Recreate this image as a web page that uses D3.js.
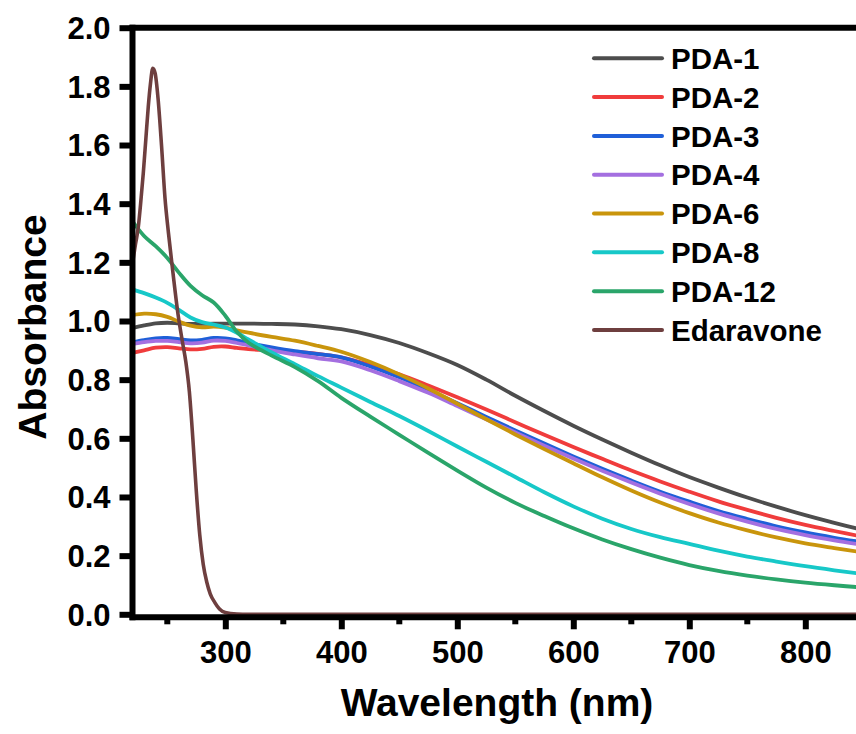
<!DOCTYPE html>
<html>
<head>
<meta charset="utf-8">
<script src="https://cdn.jsdelivr.net/npm/d3@7"></script>
<style>
  html, body { margin: 0; padding: 0; background: #fff; }
  svg { display: block; }
  text { font-family: "Liberation Sans", Arial, Helvetica, sans-serif; font-weight: bold; fill: #000; }
</style>
</head>
<body>
<svg id="chart" width="856" height="734"></svg>
<script>
// ---------- DATA ----------
const wavelengths = [220, 230, 240, 250, 260, 270, 280, 290, 300, 310, 320, 340, 360, 380, 400, 425, 450, 475, 500, 525, 550, 575, 600, 625, 650, 675, 700, 725, 750, 775, 800, 825, 850];

const pda1  = [0.976, 0.985, 0.992, 0.994, 0.992, 0.990, 0.990, 0.991, 0.991, 0.991, 0.991, 0.990, 0.988, 0.982, 0.972, 0.952, 0.925, 0.890, 0.850, 0.800, 0.745, 0.693, 0.643, 0.596, 0.551, 0.508, 0.468, 0.432, 0.398, 0.367, 0.338, 0.312, 0.287];
const pda2  = [0.891, 0.900, 0.909, 0.911, 0.907, 0.903, 0.905, 0.912, 0.913, 0.908, 0.904, 0.900, 0.895, 0.888, 0.876, 0.850, 0.818, 0.780, 0.740, 0.698, 0.655, 0.612, 0.570, 0.530, 0.490, 0.453, 0.418, 0.385, 0.356, 0.329, 0.305, 0.284, 0.264];
const pda3  = [0.928, 0.935, 0.941, 0.942, 0.938, 0.934, 0.936, 0.942, 0.941, 0.934, 0.925, 0.910, 0.897, 0.887, 0.876, 0.845, 0.808, 0.765, 0.720, 0.673, 0.627, 0.582, 0.538, 0.496, 0.456, 0.418, 0.384, 0.352, 0.325, 0.300, 0.279, 0.261, 0.245];
const pda4  = [0.922, 0.928, 0.932, 0.932, 0.928, 0.924, 0.926, 0.933, 0.932, 0.925, 0.917, 0.900, 0.886, 0.873, 0.862, 0.832, 0.795, 0.755, 0.710, 0.665, 0.620, 0.575, 0.531, 0.489, 0.449, 0.411, 0.376, 0.344, 0.316, 0.291, 0.270, 0.252, 0.236];
const pda6  = [1.020, 1.025, 1.023, 1.014, 0.998, 0.984, 0.978, 0.981, 0.977, 0.968, 0.960, 0.946, 0.933, 0.915, 0.895, 0.860, 0.818, 0.770, 0.718, 0.665, 0.613, 0.563, 0.515, 0.467, 0.422, 0.381, 0.345, 0.313, 0.286, 0.262, 0.242, 0.226, 0.211];
const pda8  = [1.108, 1.095, 1.080, 1.062, 1.038, 1.012, 0.996, 0.988, 0.978, 0.960, 0.937, 0.893, 0.853, 0.812, 0.773, 0.724, 0.676, 0.625, 0.572, 0.520, 0.468, 0.416, 0.368, 0.326, 0.291, 0.263, 0.240, 0.217, 0.197, 0.180, 0.164, 0.150, 0.137];
const pda12 = [1.340, 1.290, 1.255, 1.215, 1.165, 1.120, 1.088, 1.063, 1.018, 0.963, 0.926, 0.882, 0.843, 0.795, 0.738, 0.674, 0.612, 0.550, 0.490, 0.432, 0.380, 0.335, 0.293, 0.255, 0.222, 0.193, 0.168, 0.148, 0.132, 0.119, 0.108, 0.099, 0.091];

const edaWavelengths = [220, 222.5, 225, 227, 229.3, 231.5, 233.6, 235.5, 237.5, 239.5, 242, 245, 248, 251, 255, 259, 263, 266, 269, 272, 275, 278, 281, 284, 287, 291, 295, 300, 310, 320, 400, 500, 600, 700, 800, 850];
const edaravone      = [1.196, 1.26, 1.32, 1.40, 1.504, 1.62, 1.731, 1.81, 1.862, 1.845, 1.76, 1.60, 1.42, 1.30, 1.16, 1.03, 0.93, 0.86, 0.76, 0.60, 0.42, 0.27, 0.17, 0.11, 0.07, 0.04, 0.018, 0.006, 0.001, 0.0, 0.0, 0.0, 0.0, 0.0, 0.0, 0.0];

const seriesNames  = ["PDA-1", "PDA-2", "PDA-3", "PDA-4", "PDA-6", "PDA-8", "PDA-12", "Edaravone"];
const seriesColors = ["#4d4d4d", "#f03c3c", "#1f5fd8", "#a46fe0", "#c9950c", "#17c8c8", "#2aa56a", "#6e3f3f"];

const xTicks = [300, 400, 500, 600, 700, 800];
const xMinorTicks = [250, 350, 450, 550, 650, 750];
const yTicks = [0.0, 0.2, 0.4, 0.6, 0.8, 1.0, 1.2, 1.4, 1.6, 1.8, 2.0];

const xTitle = "Wavelength (nm)";
const yTitle = "Absorbance";

// ---------- CHART ----------
const svg = d3.select("#chart");
svg.append("rect").attr("width", 856).attr("height", 734).attr("fill", "#fff");

const x = d3.scaleLinear().domain([220, 850]).range([132.5, 863.3]);
const y = d3.scaleLinear().domain([0, 2]).range([614.3, 27.7]);

const series = [
  { name: seriesNames[0], color: seriesColors[0], xs: wavelengths, ys: pda1 },
  { name: seriesNames[1], color: seriesColors[1], xs: wavelengths, ys: pda2 },
  { name: seriesNames[2], color: seriesColors[2], xs: wavelengths, ys: pda3 },
  { name: seriesNames[3], color: seriesColors[3], xs: wavelengths, ys: pda4 },
  { name: seriesNames[4], color: seriesColors[4], xs: wavelengths, ys: pda6 },
  { name: seriesNames[5], color: seriesColors[5], xs: wavelengths, ys: pda8 },
  { name: seriesNames[6], color: seriesColors[6], xs: wavelengths, ys: pda12 },
  { name: seriesNames[7], color: seriesColors[7], xs: edaWavelengths, ys: edaravone }
];

svg.append("defs").append("clipPath").attr("id", "plotClip")
  .append("rect").attr("x", x(220)).attr("y", 0).attr("width", 900).attr("height", y(0) + 2);

const smoothLine = d3.line().x(d => x(d[0])).y(d => y(d[1])).curve(d3.curveCatmullRom.alpha(0.5));
const monoLine = d3.line().x(d => x(d[0])).y(d => y(d[1])).curve(d3.curveMonotoneX);

const plot = svg.append("g").attr("clip-path", "url(#plotClip)");
series.forEach(s => {
  const isEda = s.name === "Edaravone";
  plot.append("path")
    .datum(s.xs.map((w, i) => [w, s.ys[i]]))
    .attr("fill", "none")
    .attr("stroke", s.color)
    .attr("stroke-width", isEda ? 3.6 : 3.8)
    .attr("stroke-linejoin", "round")
    .attr("stroke-linecap", "round")
    .attr("d", isEda ? monoLine : smoothLine);
});

// Axes
const axW = 6;
const bottomY = y(0) + 3;
const xAxis = d3.axisBottom(x).tickValues(xTicks).tickSize(0).tickFormat(d3.format("d"));
const gx = svg.append("g").attr("transform", `translate(0,${bottomY})`).call(xAxis);
gx.select(".domain").remove();
gx.selectAll(".tick text").attr("font-size", 31).attr("dy", 0).attr("y", 46)
  .style("font-family", "'Liberation Sans', Arial, sans-serif").style("font-weight", "bold");
gx.selectAll(".tick").append("line")
  .attr("y1", 0).attr("y2", 12).attr("stroke", "#000").attr("stroke-width", axW);
const gxm = svg.append("g").attr("transform", `translate(0,${bottomY})`);
gxm.selectAll("line").data(xMinorTicks).join("line")
  .attr("x1", d => x(d)).attr("x2", d => x(d)).attr("y1", 0).attr("y2", 7)
  .attr("stroke", "#000").attr("stroke-width", axW);
svg.append("line").attr("x1", x(220) - 3).attr("x2", 860).attr("y1", bottomY).attr("y2", bottomY)
  .attr("stroke", "#000").attr("stroke-width", axW);

const yAxis = d3.axisLeft(y).tickValues(yTicks).tickSize(0).tickFormat(d3.format(".1f"));
const gy = svg.append("g").attr("transform", `translate(${x(220)},0)`).call(yAxis);
gy.select(".domain").remove();
gy.selectAll(".tick text").attr("font-size", 31).attr("x", -22).attr("dy", "0.35em")
  .style("font-family", "'Liberation Sans', Arial, sans-serif").style("font-weight", "bold");
gy.selectAll(".tick").append("line")
  .attr("x1", -13).attr("x2", 0).attr("stroke", "#000").attr("stroke-width", axW);
svg.append("line").attr("x1", x(220)).attr("x2", x(220)).attr("y1", y(2) - 3).attr("y2", bottomY + 3)
  .attr("stroke", "#000").attr("stroke-width", axW);
svg.append("line").attr("x1", x(220) - 3).attr("x2", 860).attr("y1", y(2)).attr("y2", y(2))
  .attr("stroke", "#000").attr("stroke-width", axW);

// Titles
svg.append("text").attr("x", 497).attr("y", 716).attr("text-anchor", "middle")
  .attr("font-size", 39).text(xTitle);
svg.append("text").attr("transform", "translate(46,327) rotate(-90)").attr("text-anchor", "middle")
  .attr("font-size", 39).text(yTitle);

// Legend
const legend = svg.append("g");
const legY = d3.scaleLinear().domain([0, 7]).range([58.3, 330]);
series.forEach((s, i) => {
  const yy = legY(i);
  legend.append("line").attr("x1", 594).attr("x2", 662).attr("y1", yy).attr("y2", yy)
    .attr("stroke", s.color).attr("stroke-width", 4).attr("stroke-linecap", "round");
  legend.append("text").attr("x", 671).attr("y", yy).attr("dy", "0.36em")
    .attr("font-size", 29.5).text(s.name);
});
</script>
</body>
</html>
